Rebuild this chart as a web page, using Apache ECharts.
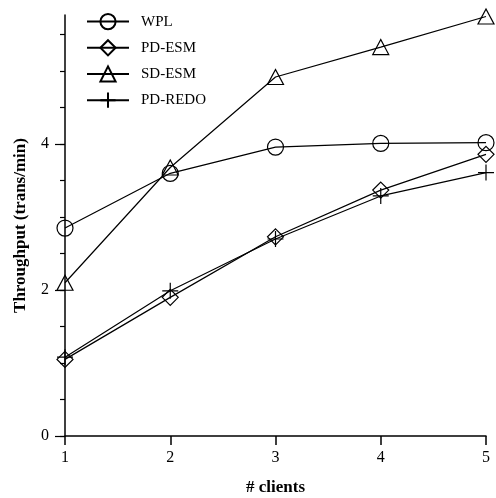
<!DOCTYPE html>
<html><head><meta charset="utf-8">
<script src="https://cdn.jsdelivr.net/npm/echarts@6/dist/echarts.min.js"></script>
<style>html,body{margin:0;padding:0;background:#fff}#c{width:496px;height:498px}</style>
</head><body><div id="c"></div>
<script>
const clients = [1, 2, 3, 4, 5];
const wpl = [2.85, 3.60, 3.96, 4.01, 4.02];
const pdEsm = [1.05, 1.90, 2.73, 3.37, 3.86];
const sdEsm = [2.10, 3.68, 4.92, 5.33, 5.75];
const pdRedo = [1.08, 1.99, 2.70, 3.29, 3.61];
const yLabels = [0, 2, 4];
const yMinorTicks = [0, 0.5, 1, 1.5, 2, 2.5, 3, 3.5, 4, 4.5, 5, 5.5];
const xTicks = [1, 2, 3, 4, 5];

const font = 'Liberation Serif';
const plus = 'path://M8,0L8,16M0,8L16,8';
function mk(name, vals, symbol, size) {
  return {
    name, type: 'line', data: clients.map((c, i) => [c, vals[i]]),
    symbol, symbolSize: size, showAllSymbol: true,
    lineStyle: {color: '#000', width: 1.2},
    itemStyle: {color: 'rgba(0,0,0,0)', borderColor: '#000', borderWidth: 1.2},
    emphasis: {disabled: true}, animation: false
  };
}
const chart = echarts.init(document.getElementById('c'));
chart.setOption({
  animation: false,
  grid: {left: 65, right: 10, top: 15, bottom: 62, containLabel: false, outerBoundsMode: 'none'},
  legend: {
    orient: 'vertical', left: 81, top: 8, itemWidth: 42, itemHeight: 19, itemGap: 9,
    textStyle: {fontFamily: font, fontSize: 15, color: '#000', padding: [0, 0, 0, 7]},
    data: ['WPL', 'PD-ESM', 'SD-ESM', 'PD-REDO']
  },
  xAxis: {
    type: 'value', min: 1, max: 5, interval: 1,
    name: '# clients', nameLocation: 'middle', nameGap: 43,
    nameTextStyle: {fontFamily: font, fontSize: 17, fontWeight: 'bold', color: '#000'},
    axisLine: {lineStyle: {color: '#000', width: 1.5}},
    axisTick: {show: true, length: 9, inside: false, customValues: xTicks, lineStyle: {color: '#000', width: 1.5}},
    axisLabel: {customValues: xTicks, fontFamily: font, fontSize: 16, color: '#000', margin: 14},
    splitLine: {show: false}
  },
  yAxis: [{
    type: 'value', min: 0, max: 5.77,
    name: 'Throughput (trans/min)', nameLocation: 'middle', nameGap: 36,
    nameTextStyle: {fontFamily: font, fontSize: 17, fontWeight: 'bold', color: '#000'},
    axisLine: {show: true, lineStyle: {color: '#000', width: 1.5}},
    axisTick: {show: true, length: 10, customValues: yLabels, lineStyle: {color: '#000', width: 1.2}},
    axisLabel: {customValues: yLabels, fontFamily: font, fontSize: 16, color: '#000', margin: 16},
    splitLine: {show: false}
  }, {
    type: 'value', min: 0, max: 5.77, position: 'left', offset: 0,
    axisLine: {show: false},
    axisTick: {show: true, length: 5, customValues: yMinorTicks, lineStyle: {color: '#000', width: 1.2}},
    axisLabel: {show: false},
    splitLine: {show: false}
  }],
  series: [
    mk('WPL', wpl, 'circle', 16),
    mk('PD-ESM', pdEsm, 'diamond', 16),
    mk('SD-ESM', sdEsm, 'triangle', [16, 15]),
    mk('PD-REDO', pdRedo, plus, 16)
  ]
});
</script></body></html>
